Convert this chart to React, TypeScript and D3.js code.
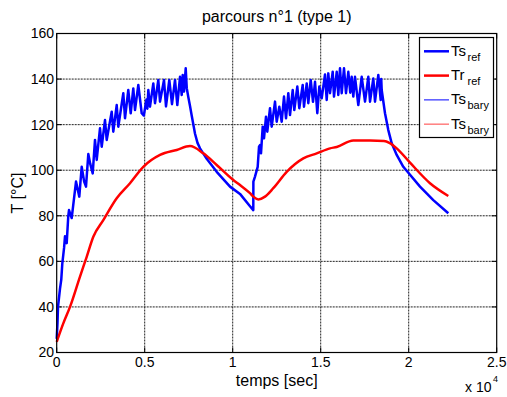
import React from 'react';
import * as d3 from 'd3';

// temps [sec], T [°C]
const tsRef: [number, number][] = [
  [0, 26], [45, 33], [74, 40], [188, 48], [260, 52], [318, 59], [420, 66], [472, 71], [568, 68],
  [659, 80], [699, 82.5], [852, 79], [1097, 95], [1284, 88.4], [1420, 101.5], [1560, 95],
  [1665, 92.8], [1796, 107.1], [1900, 103], [2046, 98.6], [2176, 113.3], [2273, 104.5],
  [2460, 118.4], [2557, 110.3], [2744, 122], [2841, 113.3], [3125, 125.7], [3216, 116.9],
  [3409, 128.6], [3500, 119.1], [3784, 133.8], [3881, 122.8], [4068, 135.2], [4205, 125],
  [4352, 135.9], [4449, 126.4], [4637, 137.4], [4830, 125], [4950, 124], [5100, 131],
  [5150, 127], [5206, 135.2], [5301, 127.9], [5489, 138.1], [5585, 129.4], [5773, 139.6],
  [5870, 130.1], [6097, 139.6], [6210, 128], [6398, 139.6], [6551, 129], [6722, 139.6],
  [6853, 128.6], [7006, 141], [7103, 133], [7159, 141.8], [7233, 134.5], [7330, 144.7],
  [7390, 136], [7480, 132], [7580, 128], [7670, 124], [7860, 116], [8000, 112], [8142, 109.6],
  [8523, 105], [9091, 99.3], [9847, 92.8], [10415, 89.6], [10983, 84.2], [11170, 82.5],
  [11175, 95], [11267, 97.2], [11420, 101.5], [11495, 110.3], [11551, 111], [11608, 107.4],
  [11705, 119.1], [11779, 114], [11892, 123.5], [11966, 116.9], [12120, 127.2], [12216, 119.1],
  [12404, 130.1], [12500, 121.3], [12648, 127.9], [12784, 121.3], [12915, 132.3], [13029, 122.8],
  [13160, 133.8], [13256, 124.2], [13409, 135.2], [13500, 126.4], [13671, 136.7], [13784, 127.2],
  [13977, 137.4], [14051, 127.9], [14205, 138.1], [14296, 129.4], [14432, 139.6], [14563, 130],
  [14677, 138.8], [14807, 125], [14921, 136.7], [15057, 131.6], [15245, 142], [15341, 130.8],
  [15432, 142.5], [15529, 133.8], [15682, 143.2], [15756, 132.3], [15910, 143.2], [16000, 133],
  [16097, 144.7], [16194, 133.8], [16324, 144.7], [16438, 133.8], [16569, 143.2], [16680, 134],
  [16760, 141], [16853, 132.3], [16949, 141], [17137, 128.6], [17330, 141], [17518, 130.1],
  [17705, 141], [17802, 130.1], [17989, 140.3], [18086, 130.1], [18273, 141.8], [18409, 130.8],
  [18440, 140], [18466, 135.2], [18654, 125], [18841, 117.6], [19035, 111.8], [19319, 106.7],
  [19694, 101.5], [20075, 98], [20643, 92.8], [21398, 86.9], [22250, 81.1],
];

const trRef: [number, number][] = [
  [0, 24.7], [375, 32.8], [756, 40], [1324, 53.3], [1705, 62], [2080, 70.8], [2648, 78.1],
  [3409, 87.7], [4165, 94.3], [4920, 101.5], [5870, 106.7], [6818, 108.9], [7574, 110.6],
  [8330, 107.4], [9091, 102.3], [10034, 95.7], [10415, 93.5], [10983, 89.9], [11170, 88.4],
  [11455, 87.2], [11835, 88.4], [12307, 92.1], [13068, 99.3], [14012, 105.2], [14773, 107.4],
  [15529, 109.6], [15910, 110.2], [16853, 113], [17800, 113], [18600, 112.8], [18900, 112],
  [19319, 109.6], [20075, 103.3], [21210, 94.3], [22250, 88.7],
];

const xTicks = [0, 5000, 10000, 15000, 20000, 25000];
const xTickLabels = ['0', '0.5', '1', '1.5', '2', '2.5'];
const yTicks = [20, 40, 60, 80, 100, 120, 140, 160];

const legendItems = [
  { main: 'Ts', sub: 'ref', color: '#0000ff', width: 2.5 },
  { main: 'Tr', sub: 'ref', color: '#ff0000', width: 2.5 },
  { main: 'Ts', sub: 'bary', color: '#0000ff', width: 1 },
  { main: 'Ts', sub: 'bary', color: '#ff7f7f', width: 1.5 },
];

const W = 507;
const H = 397;
const L = 56.7, R = 496.7, T = 33.5, B = 352.5;
const font = '"Liberation Sans", Arial, Helvetica, sans-serif';

export default function App() {
  const x = d3.scaleLinear().domain([0, 25000]).range([L, R]);
  const y = d3.scaleLinear().domain([20, 160]).range([B, T]);
  const line = d3.line<[number, number]>().x(d => x(d[0])).y(d => y(d[1]));
  const smooth = d3.line<[number, number]>().x(d => x(d[0])).y(d => y(d[1])).curve(d3.curveMonotoneX);

  return (
    <svg width={W} height={H} style={{ position: 'absolute', left: 0, top: 0, background: '#fff' }}
      fontFamily={font}>
      <rect x={0} y={0} width={W} height={H} fill="#fff" />
      {/* grid */}
      {xTicks.slice(1, -1).map(t => (
        <line key={'gx' + t} x1={x(t)} x2={x(t)} y1={T} y2={B} stroke="#222" strokeWidth={1} strokeDasharray="2 1" />
      ))}
      {yTicks.slice(1, -1).map(t => (
        <line key={'gy' + t} x1={L} x2={R} y1={y(t)} y2={y(t)} stroke="#222" strokeWidth={1} strokeDasharray="2 1" />
      ))}
      {/* ticks inward */}
      {xTicks.map(t => (
        <g key={'tx' + t}>
          <line x1={x(t)} x2={x(t)} y1={B} y2={B - 5} stroke="#000" />
          <line x1={x(t)} x2={x(t)} y1={T} y2={T + 5} stroke="#000" />
        </g>
      ))}
      {yTicks.map(t => (
        <g key={'ty' + t}>
          <line x1={L} x2={L + 5} y1={y(t)} y2={y(t)} stroke="#000" />
          <line x1={R} x2={R - 5} y1={y(t)} y2={y(t)} stroke="#000" />
        </g>
      ))}
      {/* curves */}
      <path d={line(tsRef) || ''} fill="none" stroke="#0000ff" strokeWidth={2.5} strokeLinejoin="round" />
      <path d={smooth(trRef) || ''} fill="none" stroke="#ff0000" strokeWidth={2.5} strokeLinejoin="round" />
      {/* axes box */}
      <rect x={L} y={T} width={R - L} height={B - T} fill="none" stroke="#000" strokeWidth={1.2} />
      {/* tick labels */}
      {xTicks.map((t, i) => (
        <text key={'lx' + t} x={x(t)} y={367} fontSize={14} textAnchor="middle">{xTickLabels[i]}</text>
      ))}
      {yTicks.map(t => (
        <text key={'ly' + t} x={54} y={y(t)} dy="0.35em" fontSize={14} textAnchor="end">{t}</text>
      ))}
      {/* labels */}
      <text x={(L + R) / 2} y={22} fontSize={16} textAnchor="middle">parcours n°1 (type 1)</text>
      <text x={(L + R) / 2} y={386} fontSize={16} textAnchor="middle">temps [sec]</text>
      <text transform={`translate(23,${(T + B) / 2}) rotate(-90)`} fontSize={16} textAnchor="middle">T [°C]</text>
      <text x={465} y={392} fontSize={14}>x 10</text>
      <text x={493} y={382} fontSize={9}>4</text>
      {/* legend */}
      <rect x={419.5} y={37.5} width={74} height={100} fill="#fff" stroke="#000" strokeWidth={1.2} />
      {legendItems.map((it, i) => {
        const ly = 51.3 + i * 24.3;
        return (
          <g key={'lg' + i}>
            <line x1={424} x2={449} y1={ly} y2={ly} stroke={it.color} strokeWidth={it.width} />
            <text x={451} y={ly + 4.5} fontSize={15}>{it.main}</text>
            <text x={467.5} y={ly + 9.5} fontSize={11}>{it.sub}</text>
          </g>
        );
      })}
    </svg>
  );
}
